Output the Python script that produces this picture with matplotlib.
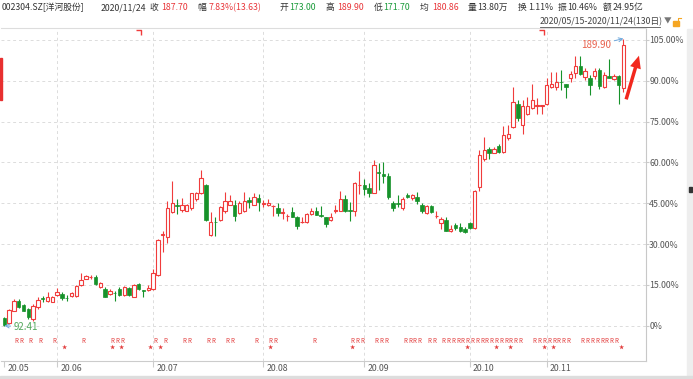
import numpy as np
import matplotlib
matplotlib.use('Agg')
import matplotlib.pyplot as plt
from matplotlib.transforms import blended_transform_factory, ScaledTranslation
from matplotlib.lines import Line2D
from matplotlib.patches import Rectangle
from matplotlib.path import Path

plt.rcParams['font.family'] = ['Noto Sans CJK SC', 'DejaVu Sans']

# ---- data: 002304.SZ daily candles 2020/05/15 - 2020/11/24 (130 days) ----
base_price = 92.41

opens = [94.9, 93.2, 97.5, 100.9, 99.3, 98.0, 94.8, 98.9, 101.8, 100.9,
         100.5, 102.8, 103.2, 101.9, 102.5, 102.5, 106.1, 108.4, 108.8, 108.9,
         105.5, 105.0, 103.2, 103.6, 105.0, 102.8, 105.2, 102.3, 106.6, 104.4,
         104.5, 104.8, 109.5, 123.1, 122.4, 131.0, 133.3, 131.7, 131.5, 132.2,
         135.4, 137.4, 140.1, 123.3, 127.7, 128.3, 131.5, 133.5, 133.3, 130.8,
         131.3, 135.1, 133.5, 135.6, 133.8, 133.5, 133.0, 132.2, 130.7, 129.6,
         131.0, 129.4, 127.5, 127.7, 130.4, 131.5, 130.0, 129.2, 128.3, 131.4,
         131.5, 135.4, 131.6, 131.3, 140.2, 140.3, 139.2, 137.6, 144.5, 143.8,
         143.3, 134.0, 133.9, 132.4, 136.9, 135.8, 136.2, 133.3, 130.6, 133.1,
         129.6, 127.4, 128.3, 124.5, 126.7, 125.8, 125.2, 127.4, 125.6, 139.4,
         148.9, 152.3, 151.2, 153.5, 151.4, 156.2, 160.0, 167.6, 160.4, 164.2,
         166.3, 167.1, 167.1, 167.8, 173.3, 173.3, 175.2, 174.4, 176.5, 178.2,
         180.5, 176.9, 176.5, 177.3, 179.2, 173.5, 177.1, 176.2, 177.3, 173.00]
closes = [92.65, 97.7, 100.9, 98.9, 97.5, 95.3, 99.1, 101.1, 101.6, 102.2,
          102.1, 104.0, 101.8, 101.8, 103.6, 105.9, 107.9, 109.1, 109.0, 106.6,
          106.8, 102.3, 104.3, 103.4, 102.7, 105.5, 102.9, 106.1, 104.8, 104.2,
          105.2, 110.2, 121.5, 123.4, 132.2, 134.0, 133.1, 133.5, 133.3, 137.4,
          137.4, 142.6, 128.3, 127.6, 127.6, 132.6, 134.7, 134.7, 129.5, 134.0,
          134.7, 134.5, 136.0, 134.4, 134.1, 134.2, 133.1, 130.6, 130.9, 129.7,
          129.4, 126.3, 127.7, 130.4, 131.5, 130.1, 129.8, 127.0, 129.2, 131.5,
          135.4, 131.5, 131.4, 141.0, 140.3, 138.9, 137.6, 147.1, 144.2, 143.3,
          136.0, 132.4, 133.7, 135.4, 136.0, 136.7, 134.7, 131.5, 133.1, 131.0,
          129.7, 128.6, 124.5, 125.2, 125.6, 124.7, 124.2, 125.6, 138.1, 150.3,
          152.1, 151.2, 152.5, 151.4, 157.1, 157.5, 168.5, 162.9, 166.9, 166.9,
          169.2, 167.2, 167.2, 174.2, 174.4, 175.3, 175.0, 173.5, 178.0, 180.7,
          178.0, 178.9, 174.2, 178.9, 173.9, 177.6, 176.5, 177.1, 174.07, 187.70]
highs = [95.4, 98.2, 101.5, 101.4, 99.9, 98.5, 99.9, 102.3, 102.5, 103.9,
         102.5, 105.3, 103.7, 102.7, 104.0, 106.3, 110.2, 109.7, 109.5, 109.5,
         107.2, 105.5, 104.8, 104.2, 105.4, 105.9, 105.6, 106.5, 107.0, 104.6,
         106.3, 111.6, 121.8, 124.7, 134.7, 141.5, 135.4, 135.6, 133.7, 137.5,
         137.8, 145.3, 140.5, 131.0, 129.2, 133.1, 137.8, 136.9, 135.1, 134.7,
         137.8, 136.2, 137.5, 137.0, 135.1, 135.4, 133.5, 134.0, 132.2, 130.4,
         132.6, 129.6, 129.2, 130.6, 132.2, 132.8, 133.1, 129.4, 130.6, 133.5,
         138.3, 136.9, 134.4, 141.2, 144.9, 142.1, 141.0, 148.7, 147.6, 148.0,
         144.4, 134.7, 136.7, 136.0, 137.4, 137.2, 137.8, 134.0, 133.5, 133.3,
         131.5, 129.2, 129.4, 126.7, 127.2, 127.2, 126.0, 127.6, 138.5, 151.9,
         156.6, 153.0, 153.0, 154.1, 160.3, 160.5, 173.3, 169.0, 169.0, 169.9,
         174.4, 169.7, 167.4, 176.5, 178.4, 178.4, 179.4, 174.6, 178.8, 183.9,
         183.9, 179.9, 177.6, 179.9, 179.9, 178.4, 183.0, 178.0, 177.6, 189.90]
lows = [92.41, 93.0, 97.3, 98.4, 97.3, 94.8, 94.1, 98.2, 100.5, 100.5,
        100.3, 102.5, 101.0, 100.9, 102.3, 102.3, 106.0, 108.2, 108.3, 106.3,
        105.3, 102.1, 102.9, 100.9, 102.4, 102.5, 102.6, 102.0, 104.5, 102.1,
        104.3, 104.5, 109.2, 117.5, 120.4, 130.6, 130.4, 131.1, 131.2, 131.7,
        134.7, 137.0, 128.0, 122.9, 122.7, 128.0, 130.6, 133.3, 127.9, 130.4,
        130.9, 132.4, 133.3, 131.5, 132.6, 132.9, 129.7, 129.5, 128.6, 128.1,
        129.3, 125.2, 127.2, 127.2, 130.0, 129.9, 129.4, 125.8, 128.1, 130.8,
        131.3, 131.0, 128.1, 129.7, 137.1, 136.7, 136.2, 137.3, 138.5, 141.0,
        135.4, 131.5, 132.8, 131.8, 135.8, 135.2, 133.7, 130.6, 130.2, 130.7,
        129.0, 125.4, 124.5, 124.3, 124.9, 124.1, 123.8, 125.2, 125.2, 138.3,
        148.5, 149.1, 151.0, 151.2, 151.2, 155.5, 159.5, 162.0, 157.6, 164.0,
        166.0, 164.4, 164.3, 167.5, 173.0, 172.6, 172.4, 169.7, 175.2, 176.5,
        177.5, 175.9, 170.8, 176.2, 172.8, 173.2, 176.4, 175.9, 167.6, 171.70]

month_idx = [0, 11, 31, 54, 75, 97, 113]
month_labels = ['20.05', '20.06', '20.07', '20.08', '20.09', '20.10', '20.11']
pct_ticks = [0, 15, 30, 45, 60, 75, 90, 105]

r_marks = [2, 3, 5, 7, 10, 16, 22, 23, 24, 31, 33, 37, 38, 42, 43, 46, 47,
           52, 55, 56, 64, 72, 73, 74, 77, 78, 79, 83, 84, 85, 86, 88, 89,
           91, 92, 93, 94, 95, 96, 97, 98, 99, 100, 101, 102, 103, 104, 105,
           106, 107, 110, 111, 112, 113, 114, 115, 116, 117,
           120, 121, 122, 123, 124, 125, 126, 127]
star_marks = [12, 22, 24, 30, 32, 55, 72, 96, 102, 105, 112, 114, 128]
flag_marks = [28, 112]

header = [('002304.SZ[洋河股份]', 'k'), ('2020/11/24', 'k'), ('收', 'k'), ('187.70', 'r'),
          ('幅', 'k'), ('7.83%(13.63)', 'r'), ('开', 'k'), ('173.00', 'g'),
          ('高', 'k'), ('189.90', 'r'), ('低', 'k'), ('171.70', 'g'),
          ('均', 'k'), ('180.86', 'r'), ('量', 'k'), ('13.80万', 'k'),
          ('换', 'k'), ('1.11%', 'k'), ('振', 'k'), ('10.46%', 'k'),
          ('额', 'k'), ('24.95亿', 'k')]
header_x = [2, 100.7, 149.3, 161, 197.7, 208.3, 279.3, 289.3, 326, 337, 373.3,
            383.3, 420, 431.7, 467.7, 476.7, 517.3, 527.7, 557.3, 567.3, 602.7, 612.7]
date_range = '2020/05/15-2020/11/24(130日)'

RED = '#f03c3c'
GREEN = '#16922a'
TXT_COL = {'k': '#333333', 'r': '#e8363a', 'g': '#1a9b3a'}

W, H = 693, 379
fig = plt.figure(figsize=(W / 100, H / 100), dpi=100)
fig.patch.set_facecolor('white')


def fx(x):
    return x / W


def fy(y):
    return 1 - y / H


ax = fig.add_axes([fx(1), fy(361), fx(646) - fx(1), fy(28) - fy(361)])

o = (np.array(opens) / base_price - 1) * 100
c = (np.array(closes) / base_price - 1) * 100
hi = (np.array(highs) / base_price - 1) * 100
lo = (np.array(lows) / base_price - 1) * 100
x = np.arange(len(o))
up = c >= o

ax.vlines(x, lo, hi, colors=np.where(up, RED, GREEN), linewidth=0.8, zorder=2)
bottom = np.minimum(o, c)
height = np.maximum(np.abs(c - o), 0.15)
ax.bar(x[up], height[up], bottom=bottom[up], width=0.7, facecolor='white',
       edgecolor=RED, linewidth=0.8, zorder=3)
ax.bar(x[~up], height[~up], bottom=bottom[~up], width=0.7, facecolor=GREEN,
       edgecolor=GREEN, linewidth=0.5, zorder=3)

ax.set_xlim(-0.69, 133.7)
ax.set_ylim(-13.0, 109.4)

# grid
ax.set_yticks(pct_ticks)
ax.set_yticklabels(['0%' if v == 0 else f'{v:.2f}%' for v in pct_ticks])
ax.yaxis.tick_right()
ax.grid(axis='y', color='#dcdcdc', linestyle=(0, (3, 3)), linewidth=0.7, zorder=0)
for m in month_idx[1:]:
    ax.axvline(m, color='#dcdcdc', linestyle=(0, (3, 3)), linewidth=0.7, zorder=0)

ax.set_xticks(month_idx)
ax.set_xticklabels(month_labels)
ax.tick_params(axis='x', length=4.5, color='#cccccc', labelsize=6.3,
               labelcolor='#555555', pad=-2.5)
ax.tick_params(axis='y', length=2, color='#cccccc', labelsize=6.3,
               labelcolor='#555555', pad=0.3)
for lbl in ax.get_xticklabels():
    lbl.set_ha('left')
    lbl.set_transform(lbl.get_transform() + ScaledTranslation(3 / 100, 0, fig.dpi_scale_trans))

ax.spines['left'].set_visible(False)
ax.spines['right'].set_color('#c8c8c8')
ax.spines['top'].set_color('#dddddd')
ax.spines['bottom'].set_color('#cccccc')
for s in ax.spines.values():
    s.set_linewidth(0.8)

# signal rows under the candles
tr = blended_transform_factory(ax.transData, ax.transAxes)
for i in r_marks:
    ax.text(i + 0.5, 0.061, 'R', transform=tr, color='#e23c3c', fontsize=4.5,
            ha='center', va='center')
for i in star_marks:
    ax.text(i + 0.5, 0.043, '★', transform=tr, color='#e23c3c', fontsize=3.8,
            ha='center', va='center')
flag = Path([(-1, 0.6), (0.6, 0.6), (0.6, -1)], [Path.MOVETO, Path.LINETO, Path.LINETO])
ax.plot(flag_marks, [0.988] * len(flag_marks), transform=tr, linestyle='none',
        marker=flag, markersize=4, markerfacecolor='none', markeredgecolor=RED,
        markeredgewidth=1.0)

# low / high notes
i_lo = int(np.argmin(lo))
i_hi = int(np.argmax(hi))
ax.annotate(f'{lows[i_lo]:.2f}', xy=(i_lo, lo[i_lo]), xytext=(i_lo + 1.9, lo[i_lo] - 0.6),
            color='#52a85c', fontsize=7, ha='left', va='center',
            arrowprops=dict(arrowstyle='->', color='#6fa8dc', lw=0.7, shrinkA=0, shrinkB=0))
ax.annotate(f'{highs[i_hi]:.2f}', xy=(i_hi, hi[i_hi]), xytext=(i_hi - 2.5, hi[i_hi] - 2.3),
            color='#e8604c', fontsize=7, ha='right', va='center',
            arrowprops=dict(arrowstyle='->', color='#6fa8dc', lw=0.7, shrinkA=0, shrinkB=0))
ax.annotate('', xy=(132.4, 100.2), xytext=(129.4, 82.2),
            arrowprops=dict(arrowstyle='simple,head_length=0.9,head_width=0.8,tail_width=0.25',
                            color='#f2281e', lw=0), annotation_clip=False)

# header
for (txt, col), hx in zip(header, header_x):
    fig.text(fx(hx), fy(7.5), txt, color=TXT_COL[col], fontsize=6.3, ha='left', va='center')
fig.text(fx(540), fy(22), date_range, color='#444444', fontsize=6.3, ha='left', va='center')
fig.add_artist(Line2D([fx(540), fx(660)], [fy(26.5), fy(26.5)], color='#555555', lw=0.6))
fig.text(fx(664), fy(22), '▼', color='#777777', fontsize=5.5, ha='left', va='center')
fig.add_artist(Rectangle((fx(673), fy(26)), fx(6), 5 / H, color='#f5a623'))
fig.add_artist(Line2D([fx(678), fx(678), fx(681)], [fy(21), fy(18), fy(18)], color='#f5a623', lw=0.8))

# window chrome
fig.add_artist(Rectangle((fx(687), fy(376)), fx(6), 347 / H, color='#eeeeee', zorder=-1))
fig.add_artist(Rectangle((fx(689), fy(192)), fx(3), 5 / H, color='#333333'))
fig.add_artist(Rectangle((0, 0), 1, 3 / H, color='#dddddd'))
fig.add_artist(Rectangle((0, fy(100)), fx(1.5), 42 / H, color='#e83030'))

fig.savefig('out.png', dpi=100)
